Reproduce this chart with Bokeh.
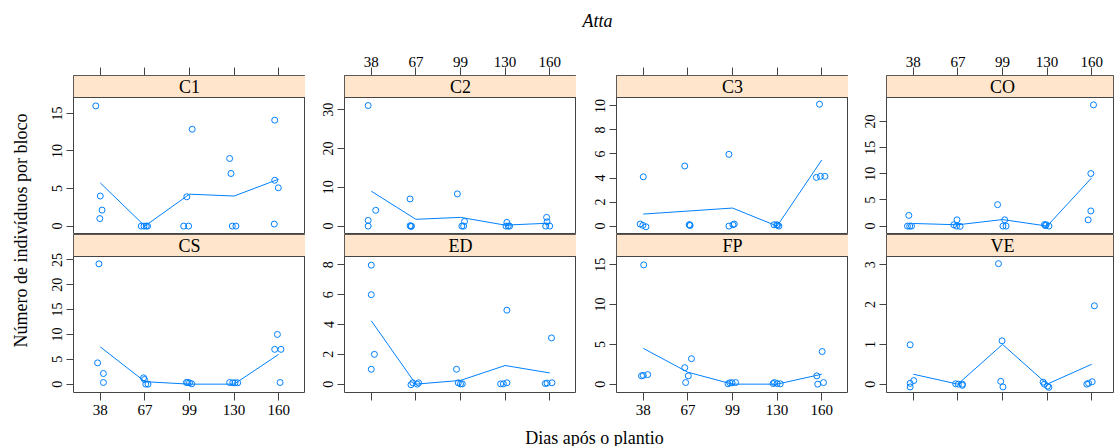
import numpy as np
from bokeh.plotting import figure
from bokeh.models import Range1d, LinearAxis, FixedTicker, BoxAnnotation, Label
from bokeh.layouts import row, column
from bokeh.embed import file_html
from bokeh.resources import INLINE

# ---------------- data ----------------
dates = ["38", "67", "99", "130", "160"]
panels = ["C1", "C2", "C3", "CO", "CS", "ED", "FP", "VE"]

# counts per block (4 blocks per date, dates in order 38, 67, 99, 130, 160)
cnt_C1 = [16, 4, 2, 1,   0, 0, 0, 0,   13, 4, 0, 0,   9, 7, 0, 0,   14, 6, 5, 0]
cnt_C2 = [31, 4, 1, 0,   7, 0, 0, 0,   8, 1, 0, 0,    1, 0, 0, 0,   2, 1, 0, 0]
cnt_C3 = [4, 0, 0, 0,    5, 0, 0, 0,   6, 0, 0, 0,    0, 0, 0, 0,   10, 4, 4, 4]
cnt_CO = [2, 0, 0, 0,    1, 0, 0, 0,   4, 1, 0, 0,    0, 0, 0, 0,   23, 10, 3, 1]
cnt_CS = [24, 4, 2, 0,   1, 1, 0, 0,   0, 0, 0, 0,    0, 0, 0, 0,   10, 7, 7, 0]
cnt_ED = [8, 6, 2, 1,    0, 0, 0, 0,   1, 0, 0, 0,    5, 0, 0, 0,   3, 0, 0, 0]
cnt_FP = [15, 1, 1, 1,   3, 2, 1, 0,   0, 0, 0, 0,    0, 0, 0, 0,   4, 1, 0, 0]
cnt_VE = [1, 0, 0, 0,    0, 0, 0, 0,   3, 1, 0, 0,    0, 0, 0, 0,   2, 0, 0, 0]

# jitter of the plotted points (x in category units, y in count units)
jx_C1 = [-0.10, 0.00, 0.04, -0.01, -0.08, -0.02, 0.03, 0.06, 0.06, -0.06, -0.13, -0.02, -0.10, -0.07, -0.04, 0.04, -0.09, -0.09, -0.01, -0.10]
jy_C1 = [0, 0, 0.13, 0, 0, 0, 0, 0, -0.1, -0.1, 0, 0, 0, 0, 0, 0, 0.1, 0.1, 0.1, 0.27]
jx_C2 = [-0.07, 0.10, -0.07, -0.07, -0.13, -0.13, -0.10, -0.11, -0.07, 0.09, 0.03, 0.07, 0.04, 0.02, 0.07, 0.10, -0.07, -0.06, -0.09, 0.00]
jy_C2 = [0.1, 0.07, 0.47, 0, 0, 0.1, 0, -0.1, 0.3, 0.2, 0, 0, -0.05, 0, 0, 0, 0.25, 0.1, 0, 0]
jx_C3 = [0.00, -0.07, -0.01, 0.06, -0.07, 0.03, 0.04, 0.05, -0.08, -0.08, 0.01, 0.04, -0.07, -0.01, 0.01, 0.04, -0.05, -0.12, -0.03, 0.07]
jy_C3 = [0.1, 0.17, 0.06, -0.06, 0, 0.11, 0.11, 0.05, -0.03, 0, 0.11, 0.17, 0.11, 0.11, 0.08, 0, 0.14, 0.05, 0.14, 0.14]
jx_CO = [-0.10, -0.13, -0.08, -0.04, -0.02, -0.09, -0.03, 0.05, -0.11, 0.05, 0.01, 0.08, -0.06, -0.02, 0.04, -0.04, 0.04, -0.02, -0.02, -0.08]
jy_CO = [0.05, 0, 0, 0, 0.2, 0.25, 0, -0.05, 0.1, 0.2, 0, 0, 0.3, 0.25, 0, 0.1, 0.2, 0.06, -0.1, 0.2]
jx_CS = [-0.03, -0.06, 0.07, 0.07, -0.03, -0.01, 0.07, 0.02, -0.07, -0.04, 0.00, 0.05, -0.10, -0.03, 0.02, 0.08, -0.03, -0.09, 0.05, 0.03]
jy_CS = [0.2, 0.28, 0.14, 0.33, 0.27, -0.06, 0, 0, 0.33, 0.33, 0.27, 0.07, 0.33, 0.27, 0.27, 0.27, 0, 0, 0, 0.33]
jx_ED = [0.00, 0.00, 0.07, 0.00, -0.11, -0.07, 0.03, 0.06, -0.09, -0.05, 0.00, 0.04, 0.04, -0.10, -0.04, 0.04, 0.04, -0.10, -0.06, 0.05]
jy_ED = [-0.02, 0, 0, 0, -0.04, 0.09, 0, 0.09, 0, 0.09, 0.02, 0.02, -0.04, 0.02, 0.02, 0.09, 0.1, 0.04, 0.07, 0.09]
jx_FP = [0.01, -0.04, 0.00, 0.10, 0.08, -0.07, 0.01, -0.05, -0.10, -0.06, -0.01, 0.07, -0.09, -0.06, 0.00, 0.07, 0.01, -0.11, -0.09, 0.04]
jy_FP = [0, 0.04, 0.1, 0.2, 0.2, 0.07, 0.04, 0.2, 0.04, 0.17, 0.17, 0.2, 0.08, 0.2, 0.08, 0.04, 0.1, 0.04, 0, 0.2]
jx_VE = [-0.07, 0.01, -0.07, -0.07, -0.05, 0.01, 0.10, 0.10, -0.09, -0.01, -0.04, 0.01, -0.09, -0.06, 0.01, 0.04, 0.06, -0.11, -0.07, 0.01]
jy_VE = [-0.01, 0.09, 0.02, -0.07, 0.01, 0, 0, -0.03, 0.03, 0.09, 0.07, -0.07, 0.05, 0, -0.05, -0.08, -0.03, 0, 0.02, 0.06]

# y tick values per panel
yt_C1 = [0, 5, 10, 15]
yt_C2 = [0, 10, 20, 30]
yt_C3 = [0, 2, 4, 6, 8, 10]
yt_CO = [0, 5, 10, 15, 20]
yt_CS = [0, 5, 10, 15, 20, 25]
yt_ED = [0, 2, 4, 6, 8]
yt_FP = [0, 5, 10, 15]
yt_VE = [0, 1, 2, 3]

title_text = "Atta"
xlab_text = "Dias após o plantio"
ylab_text = "Número de indivíduos por bloco"

COUNTS = {"C1": cnt_C1, "C2": cnt_C2, "C3": cnt_C3, "CO": cnt_CO,
          "CS": cnt_CS, "ED": cnt_ED, "FP": cnt_FP, "VE": cnt_VE}
JX = {"C1": jx_C1, "C2": jx_C2, "C3": jx_C3, "CO": jx_CO,
      "CS": jx_CS, "ED": jx_ED, "FP": jx_FP, "VE": jx_VE}
JY = {"C1": jy_C1, "C2": jy_C2, "C3": jy_C3, "CO": jy_CO,
      "CS": jy_CS, "ED": jy_ED, "FP": jy_FP, "VE": jy_VE}
YT = {"C1": yt_C1, "C2": yt_C2, "C3": yt_C3, "CO": yt_CO,
      "CS": yt_CS, "ED": yt_ED, "FP": yt_FP, "VE": yt_VE}

# ---------------- style / layout ----------------
FONT = "Liberation Serif"
BLUE = "#0080ff"
STRIP = "#ffe5cc"
EDGE = "#444444"

left_b = [38, 39, 40, 38]
frame_w = [232, 232, 232, 227]
right_b = [0, 0, 0, 2]
PLOT_H = [137, 136]
STRIP_H = 22
top_b = [28, 0]
bottom_b = [0, 32]


def make_panel(i):
    r, c = divmod(i, 4)
    name = panels[i]
    counts = np.array(COUNTS[name], dtype=float)
    n_per = len(counts) // len(dates)
    pos = np.repeat(np.arange(1, len(dates) + 1), n_per)
    xs = pos + np.array(JX[name])
    ys = counts + np.array(JY[name])
    means = counts.reshape(len(dates), n_per).mean(axis=1)

    lo, hi = counts.min(), counts.max()
    pad = 0.07 * (hi - lo)
    y0, y1 = lo - pad, hi + pad
    ytop = y1 + (y1 - y0) * STRIP_H / PLOT_H[r]
    x1 = 0.4 + 5.2 * frame_w[c] / 232.0

    p = figure(width=left_b[c] + frame_w[c] + right_b[c],
               height=top_b[r] + PLOT_H[r] + STRIP_H + bottom_b[r],
               x_range=Range1d(0.4, x1), y_range=Range1d(y0, ytop),
               min_border_left=left_b[c], min_border_right=right_b[c],
               min_border_top=top_b[r], min_border_bottom=bottom_b[r],
               x_axis_location=None, y_axis_location=None,
               toolbar_location=None, output_backend="svg")
    p.grid.visible = False
    p.outline_line_color = EDGE
    p.outline_line_width = 1
    p.background_fill_color = "white"
    p.border_fill_color = "white"

    ya = LinearAxis(ticker=FixedTicker(ticks=YT[name], minor_ticks=[]),
                    axis_line_color=None, major_tick_out=7, major_tick_in=0,
                    minor_tick_out=0, minor_tick_in=0,
                    major_tick_line_color=EDGE,
                    major_label_orientation="vertical",
                    major_label_standoff=4,
                    major_label_text_font=FONT,
                    major_label_text_font_size="14px",
                    major_label_text_color="#000000")
    p.add_layout(ya, "left")

    show = (c in (1, 3)) if r == 0 else (c in (0, 2))
    overrides = {k + 1: (dates[k] if show else "") for k in range(len(dates))}
    xa = LinearAxis(ticker=FixedTicker(ticks=list(range(1, len(dates) + 1)), minor_ticks=[]),
                    major_label_overrides=overrides,
                    axis_line_color=None, major_tick_out=8, major_tick_in=0,
                    minor_tick_out=0, minor_tick_in=0,
                    major_tick_line_color=EDGE,
                    major_label_standoff=1 if r == 0 else 4,
                    major_label_text_font=FONT,
                    major_label_text_font_size="15px",
                    major_label_text_color="#000000")
    p.add_layout(xa, "above" if r == 0 else "below")

    p.add_layout(BoxAnnotation(bottom=y1, fill_color=STRIP, fill_alpha=1.0,
                               line_color=EDGE, line_width=1, line_alpha=1.0))
    p.add_layout(Label(x=3.0, y=(y1 + ytop) / 2, text=name,
                       text_align="center", text_baseline="middle",
                       text_font=FONT, text_font_size="18px",
                       text_color="#000000"))

    p.line(x=list(range(1, len(dates) + 1)), y=means, line_color=BLUE, line_width=1)
    p.scatter(x=xs, y=ys, marker="circle", size=6, fill_color=None,
              line_color=BLUE, line_width=1)
    return p


figs = [make_panel(i) for i in range(len(panels))]

# title strip
tfig = figure(width=1080, height=47, x_range=Range1d(35, 1115), y_range=Range1d(0, 47),
              min_border=0, x_axis_location=None, y_axis_location=None,
              toolbar_location=None, output_backend="svg")
tfig.outline_line_color = None
tfig.grid.visible = False
tfig.add_layout(Label(x=597, y=27, text=title_text, text_align="center",
                      text_baseline="middle", text_font=FONT,
                      text_font_style="italic", text_font_size="18px",
                      text_color="#000000"))

# x label strip
bfig = figure(width=1080, height=22, x_range=Range1d(35, 1115), y_range=Range1d(0, 22),
              min_border=0, x_axis_location=None, y_axis_location=None,
              toolbar_location=None, output_backend="svg")
bfig.outline_line_color = None
bfig.grid.visible = False
bfig.add_layout(Label(x=594, y=9, text=xlab_text, text_align="center",
                      text_baseline="middle", text_font=FONT,
                      text_font_size="18px", text_color="#000000"))

# y label strip
lfig = figure(width=35, height=446, x_range=Range1d(0, 35), y_range=Range1d(0, 446),
              min_border=0, x_axis_location=None, y_axis_location=None,
              toolbar_location=None, output_backend="svg")
lfig.outline_line_color = None
lfig.grid.visible = False
lfig.add_layout(Label(x=20, y=216, text=ylab_text, angle=np.pi / 2,
                      text_align="center", text_baseline="middle",
                      text_font=FONT, text_font_size="18px",
                      text_color="#000000"))

layout = row(lfig, column(tfig, row(*figs[:4]), row(*figs[4:]), bfig))

open("out.html", "w").write(file_html(layout, INLINE))
